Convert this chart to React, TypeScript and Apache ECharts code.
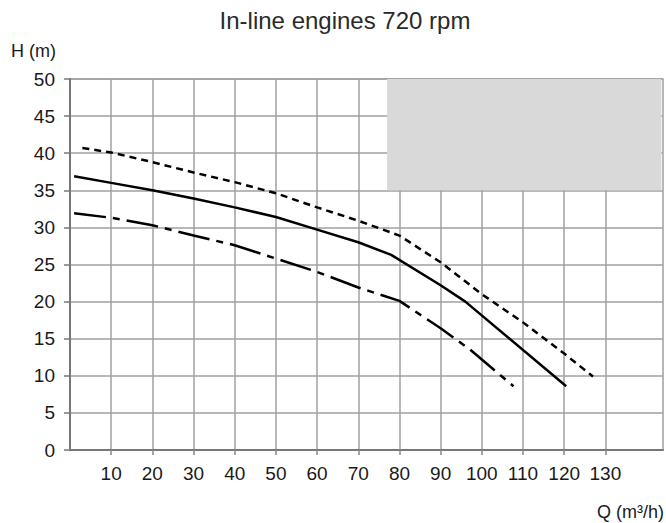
import React, { useEffect, useRef } from "react";
import * as echarts from "echarts";

const TITLE = "In-line engines 720 rpm";
const Y_NAME = "H (m)";
const X_NAME = "Q (m³/h)";

const xTicks = [10, 20, 30, 40, 50, 60, 70, 80, 90, 100, 110, 120, 130];

// upper curve (short dashes)
const upperQ = [3, 10, 20, 30, 40, 50, 60, 70, 80, 90, 100, 110, 120, 127];
const upperH = [40.7, 40.1, 38.8, 37.4, 36.1, 34.6, 32.7, 30.9, 28.9, 25.3, 21.0, 17.2, 13.0, 9.9];

// middle curve (solid)
const midQ = [1, 10, 20, 30, 40, 50, 60, 70, 78, 90, 96, 120.5];
const midH = [36.9, 36.0, 35.0, 33.9, 32.7, 31.4, 29.7, 28.0, 26.3, 22.2, 20.0, 8.6];

// lower curve (dash-dot)
const lowQ = [1, 10, 20, 30, 40, 50, 60, 70, 80, 90, 97, 107.7];
const lowH = [31.9, 31.3, 30.3, 28.9, 27.6, 25.8, 24.0, 21.9, 20.1, 16.4, 13.6, 8.6];

// shaded region (Q from, Q to, H from, H to)
const shadeQ = [77, 143.6];
const shadeH = [35, 50];

const FONT = "'Liberation Sans', Arial, sans-serif";

const pairs = (xs: number[], ys: number[]) => xs.map((x, i) => [x, ys[i]]);

export default function App() {
  const ref = useRef<HTMLDivElement>(null);
  useEffect(() => {
    document.body.style.margin = "0";
    if (!ref.current) return;
    const chart = echarts.init(ref.current, null, { renderer: "svg" });
    const lineBase = {
      type: "line" as const,
      symbol: "none",
      smooth: false,
      silent: true,
      z: 5,
    };
    chart.setOption({
      animation: false,
      backgroundColor: "#fff",
      grid: {
        left: 70,
        right: 3,
        top: 79,
        bottom: 73,
        show: true,
        borderColor: "#a0a0a0",
        borderWidth: 1.5,
        backgroundColor: "transparent",
      },
      xAxis: {
        type: "value",
        min: 0,
        max: 144,
        interval: 10,
        axisLine: { show: true, lineStyle: { color: "#777", width: 2 } },
        axisTick: {
          show: true,
          length: 5,
          customValues: xTicks,
          lineStyle: { color: "#888", width: 1.5 },
        },
        axisLabel: {
          customValues: xTicks,
          margin: 14,
          fontSize: 19,
          color: "#1a1a1a",
          fontFamily: FONT,
        },
        splitLine: { show: true, lineStyle: { color: "#a0a0a0", width: 1.5 } },
      },
      yAxis: {
        type: "value",
        min: 0,
        max: 50,
        interval: 5,
        axisLine: { show: true, lineStyle: { color: "#777", width: 2 } },
        axisTick: { show: true, length: 6, lineStyle: { color: "#777", width: 1.5 } },
        axisLabel: { margin: 15, fontSize: 19, color: "#1a1a1a", fontFamily: FONT },
        splitLine: { show: true, lineStyle: { color: "#a0a0a0", width: 1.5 } },
      },
      graphic: [
        {
          type: "text",
          x: 345,
          y: 20,
          style: {
            text: TITLE,
            align: "center",
            verticalAlign: "middle",
            fontSize: 24,
            fontFamily: FONT,
            fill: "#2a2a2a",
          },
        },
        {
          type: "text",
          x: 11,
          y: 51,
          style: {
            text: Y_NAME,
            align: "left",
            verticalAlign: "middle",
            fontSize: 18,
            fontFamily: FONT,
            fill: "#1a1a1a",
          },
        },
        {
          type: "text",
          x: 664,
          y: 512,
          style: {
            text: X_NAME,
            align: "right",
            verticalAlign: "middle",
            fontSize: 18,
            fontFamily: FONT,
            fill: "#1a1a1a",
          },
        },
      ],
      series: [
        {
          ...lineBase,
          name: "upper",
          data: pairs(upperQ, upperH),
          lineStyle: { color: "#000", width: 2.5, type: [7, 5] },
        },
        {
          ...lineBase,
          name: "middle",
          data: pairs(midQ, midH),
          lineStyle: { color: "#000", width: 2.5, type: "solid" },
          markArea: {
            silent: true,
            itemStyle: { color: "#d9d9d9", opacity: 1 },
            data: [
              [
                { xAxis: shadeQ[0], yAxis: shadeH[0] },
                { xAxis: shadeQ[1], yAxis: shadeH[1] },
              ],
            ],
          },
        },
        {
          ...lineBase,
          name: "lower",
          data: pairs(lowQ, lowH),
          lineStyle: { color: "#000", width: 2.5, type: [32, 7, 7, 7] },
        },
      ],
    });
    return () => chart.dispose();
  }, []);
  return <div ref={ref} style={{ width: 666, height: 523 }} />;
}
